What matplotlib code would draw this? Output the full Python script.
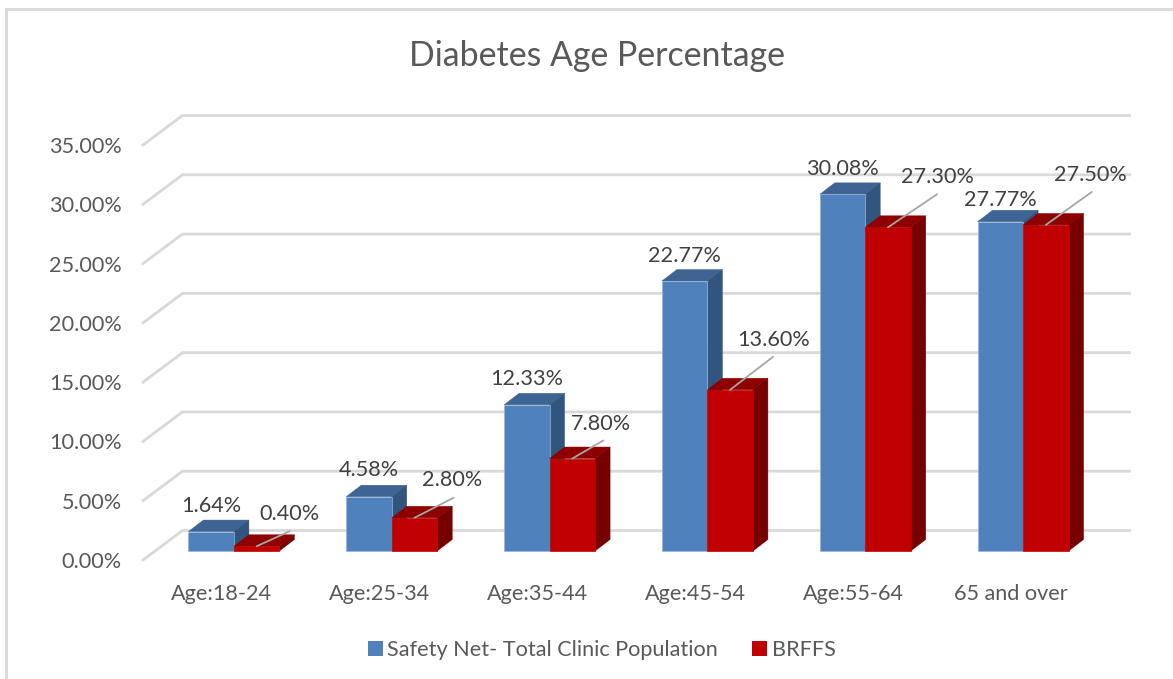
import matplotlib
matplotlib.use('Agg')
import matplotlib.pyplot as plt
from matplotlib.patches import Polygon, Rectangle

categories = ['Age:18-24', 'Age:25-34', 'Age:35-44', 'Age:45-54', 'Age:55-64', '65 and over']
safety_net = [1.64, 4.58, 12.33, 22.77, 30.08, 27.77]
brffs = [0.40, 2.80, 7.80, 13.60, 27.30, 27.50]
y_ticks = [0, 5, 10, 15, 20, 25, 30, 35]

W, H = 1173, 679
plt.rcParams['font.family'] = ['Lato', 'DejaVu Sans']
TEXT = '#595959'
LABEL = '#404040'
GRID = '#d9d9d9'
FS = 15.6

fig = plt.figure(figsize=(W / 100, H / 100), dpi=100, facecolor='white')
# front plane of the fake 3d box, pixels
ax = fig.add_axes([143 / W, 1 - 560 / H, 947 / W, 415 / H])
ax.set_xlim(-0.5, 5.5)
ax.set_ylim(0, 35)
ax.patch.set_visible(False)
for s in ax.spines.values():
    s.set_visible(False)

px_x = 6 / 947    # one pixel in category units
px_y = 35 / 415   # one pixel in percent units

# back wall offset and bar depth
back_dx, back_dy = 39.5 * px_x, 29.5 * px_y
bar_dx, bar_dy = 15 * px_x, 11.5 * px_y
lift_x, lift_y = 12 * px_x, 9 * px_y
bar_w = 45.5 * px_x

# gridlines: side wall + back wall
for t in y_ticks:
    ax.plot([-0.5, -0.5 + back_dx, 5.5 + back_dx], [t, t + back_dy, t + back_dy],
            color=GRID, lw=2, clip_on=False, zorder=1, solid_joinstyle='miter')


def draw_bar(x0, v, front, top, side, edge, z):
    y0 = lift_y
    y1 = lift_y + v
    x1 = x0 + bar_w
    ax.add_patch(Polygon([(x0, y1), (x1, y1), (x1 + bar_dx, y1 + bar_dy), (x0 + bar_dx, y1 + bar_dy)],
                         fc=top, ec=top, lw=0.3, zorder=z, clip_on=False))
    ax.add_patch(Polygon([(x1, y0), (x1 + bar_dx, y0 + bar_dy), (x1 + bar_dx, y1 + bar_dy), (x1, y1)],
                         fc=side, ec=side, lw=0.3, zorder=z, clip_on=False))
    ax.bar(x0, v, width=bar_w, bottom=y0, align='edge', color=front, edgecolor=edge,
           linewidth=0.5, zorder=z + 0.1, clip_on=False)


for i, cat in enumerate(categories):
    base = i + lift_x
    z = 3 + i
    draw_bar(base - bar_w, safety_net[i], '#4f81bd', '#3e6493', '#30557f', '#9db5d6', z)
    draw_bar(base, brffs[i], '#c00000', '#8e0000', '#760000', '#c00000', z + 0.3)

# offsets from the bar front top, in pixels
blue_off = [(0, 26), (0, 27), (0, 26), (0, 25), (0, 25), (0, 22)]
red_text_off = [(33, 32), (38, 38), (29, 35), (43, 50), (49, 50), (45, 50)]
red_line_off = [(33, 15), (39, 20), (31, 18), (43, 33), (49, 33), (46, 33)]

for i in range(len(categories)):
    base = i + lift_x
    ax.annotate(f'{safety_net[i]:.2f}%', (base - bar_w / 2, lift_y + safety_net[i]),
                xytext=blue_off[i], textcoords='offset pixels', ha='center', va='center',
                fontsize=FS, color=LABEL, zorder=20, annotation_clip=False)
    xy = (base + bar_w / 2, lift_y + brffs[i])
    ax.annotate('', xy, xytext=red_line_off[i], textcoords='offset pixels', zorder=20,
                arrowprops=dict(arrowstyle='-', color='#a6a6a6', lw=1.3, shrinkA=0, shrinkB=0),
                annotation_clip=False)
    ax.annotate(f'{brffs[i]:.2f}%', xy, xytext=red_text_off[i], textcoords='offset pixels',
                ha='center', va='center', fontsize=FS, color=LABEL, zorder=20, annotation_clip=False)

ax.set_yticks(y_ticks)
ax.set_yticklabels([f'{t:.2f}%' for t in y_ticks], fontsize=FS, color=TEXT)
ax.set_xticks(range(len(categories)))
ax.set_xticklabels(categories, fontsize=FS, color=TEXT)
ax.tick_params(axis='both', length=0)
ax.tick_params(axis='y', pad=15.5)
ax.tick_params(axis='x', pad=17.5)

fig.text(597 / W, 1 - 56 / H, 'Diabetes Age Percentage', ha='center', va='center',
         fontsize=24.4, color=TEXT)

handles = [Rectangle((0, 0), 1, 1, fc='#4f81bd'), Rectangle((0, 0), 1, 1, fc='#c00000')]
fig.legend(handles, ['Safety Net- Total Clinic Population', 'BRFFS'], loc='center',
           bbox_to_anchor=(601.5 / W, 1 - 650 / H), ncol=2, frameon=False, fontsize=FS,
           labelcolor=TEXT, handlelength=0.69, handleheight=0.69, handletextpad=0.2,
           columnspacing=1.6)

# chart area border
fig.add_artist(Rectangle((6 / W, -0.01), 1.1, 1 - 9 / H + 0.01, transform=fig.transFigure,
                         fc='none', ec=GRID, lw=2))

fig.savefig('out.png', dpi=100)
